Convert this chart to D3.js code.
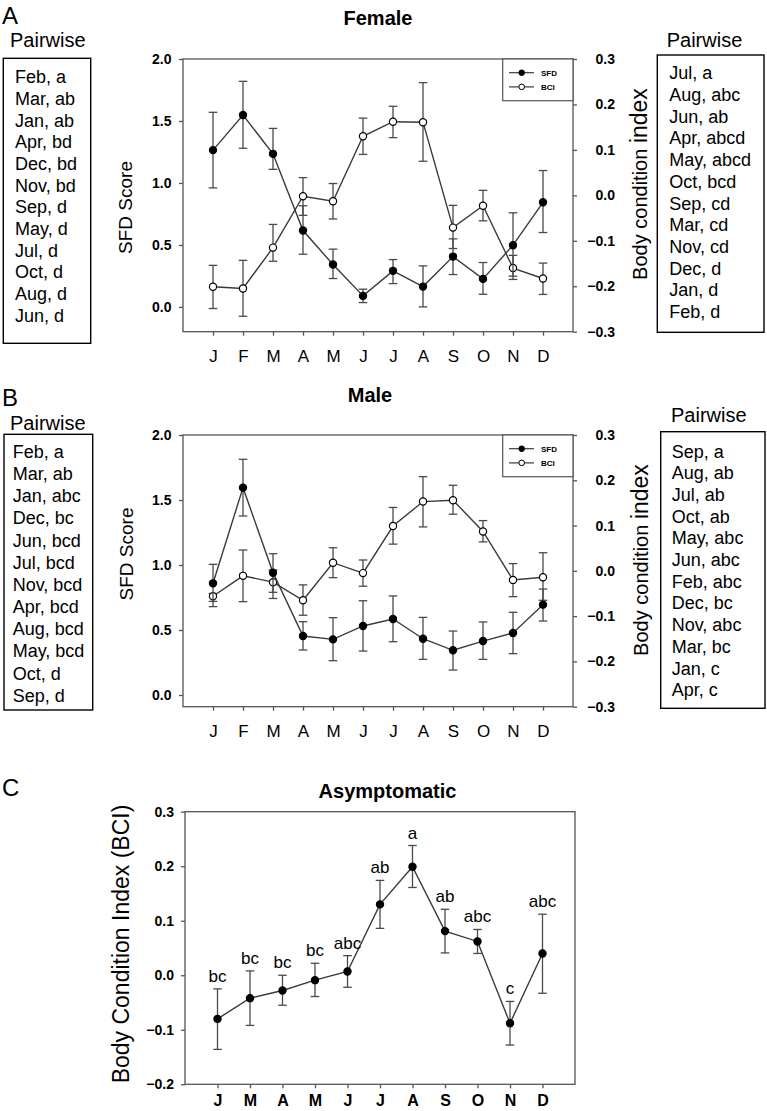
<!DOCTYPE html>
<html><head><meta charset="utf-8">
<script src="https://cdn.jsdelivr.net/npm/d3@7"></script>
<style>
body{margin:0;background:#fff}
svg{display:block}
text{font-family:"Liberation Sans",Arial,Helvetica,sans-serif;fill:#000}
</style>
</head><body>
<svg id="c" width="767" height="1111"></svg>
<script>
// ---------- DATA ----------
const months12 = ["J","F","M","A","M","J","J","A","S","O","N","D"];
const monthsC  = ["J","M","A","M","J","J","A","S","O","N","D"];
const sfdTicks = [0, 0.5, 1.0, 1.5, 2.0];
const bciTicks = [-0.3, -0.2, -0.1, 0, 0.1, 0.2, 0.3];
const bciCTicks = [-0.2, -0.1, 0, 0.1, 0.2, 0.3];
const legendLabels = ["SFD", "BCI"];

// Female (A)
const femSfdMean  = [1.265, 1.548, 1.235, 0.616, 0.342, 0.089, 0.291, 0.164, 0.406, 0.226, 0.498, 0.844];
const femSfdUpper = [1.57, 1.82, 1.44, 0.816, 0.466, 0.143, 0.382, 0.331, 0.549, 0.358, 0.759, 1.10];
const femSfdLower = [0.96, 1.28, 1.11, 0.425, 0.229, 0.035, 0.188, 0.0, 0.261, 0.102, 0.248, 0.60];
const femBciMean  = [-0.201, -0.205, -0.115, -0.002, -0.013, 0.130, 0.162, 0.161, -0.071, -0.023, -0.160, -0.183];
const femBciUpper = [-0.154, -0.143, -0.064, 0.039, 0.026, 0.170, 0.196, 0.248, -0.022, 0.011, -0.132, -0.149];
const femBciLower = [-0.249, -0.266, -0.145, -0.044, -0.052, 0.090, 0.127, 0.075, -0.117, -0.056, -0.185, -0.218];

// Male (B)
const maleSfdMean  = [0.859, 1.595, 0.941, 0.454, 0.428, 0.531, 0.585, 0.433, 0.344, 0.415, 0.477, 0.695];
const maleSfdUpper = [1.005, 1.813, 1.087, 0.564, 0.595, 0.725, 0.762, 0.597, 0.492, 0.562, 0.636, 0.815];
const maleSfdLower = [0.72, 1.377, 0.79, 0.346, 0.264, 0.338, 0.41, 0.274, 0.192, 0.274, 0.318, 0.569];
const maleBciMean  = [-0.056, -0.011, -0.025, -0.065, 0.018, -0.005, 0.099, 0.153, 0.156, 0.087, -0.020, -0.014];
const maleBciUpper = [-0.050, 0.046, 0.002, -0.031, 0.051, 0.024, 0.140, 0.208, 0.189, 0.111, 0.016, 0.040];
const maleBciLower = [-0.079, -0.068, -0.061, -0.098, -0.015, -0.034, 0.059, 0.097, 0.125, 0.064, -0.057, -0.065];

// Asymptomatic (C)
const asyMean  = [-0.080, -0.042, -0.028, -0.009, 0.007, 0.130, 0.199, 0.081, 0.062, -0.088, 0.040];
const asyUpper = [-0.025, 0.008, 0.0, 0.022, 0.036, 0.174, 0.238, 0.121, 0.084, -0.048, 0.112];
const asyLower = [-0.136, -0.092, -0.055, -0.039, -0.022, 0.086, 0.161, 0.041, 0.040, -0.128, -0.033];
const asyLetters = ["bc","bc","bc","bc","abc","ab","a","ab","abc","c","abc"];

// Pairwise lists
const pairFemSfd = ["Feb, a","Mar, ab","Jan, ab","Apr, bd","Dec, bd","Nov, bd","Sep, d","May, d","Jul, d","Oct, d","Aug, d","Jun, d"];
const pairFemBci = ["Jul, a","Aug, abc","Jun, ab","Apr, abcd","May, abcd","Oct, bcd","Sep, cd","Mar, cd","Nov, cd","Dec, d","Jan, d","Feb, d"];
const pairMaleSfd = ["Feb, a","Mar, ab","Jan, abc","Dec, bc","Jun, bcd","Jul, bcd","Nov, bcd","Apr, bcd","Aug, bcd","May, bcd","Oct, d","Sep, d"];
const pairMaleBci = ["Sep, a","Aug, ab","Jul, ab","Oct, ab","May, abc","Jun, abc","Feb, abc","Dec, bc","Nov, abc","Mar, bc","Jan, c","Apr, c"];

// ---------- DRAWING ----------
const svg = d3.select("#c");
const AX = "#555", LINE = "#3a3a3a", EB = "#4a4a4a";
const fmt = d3.format(".1f");

function styleAxis(g, size, weight) {
  g.select(".domain").remove();
  g.selectAll(".tick line").attr("stroke", AX).attr("stroke-width", 1.3);
  g.selectAll(".tick text").attr("font-size", size).attr("font-weight", weight).attr("fill", "#111")
    .style("font-family", '"Liberation Sans",Arial,sans-serif');
}

function drawSeries(g, x, y, mean, up, lo, filled) {
  const idx = d3.range(mean.length);
  g.append("path").datum(idx).attr("fill", "none").attr("stroke", LINE).attr("stroke-width", 1.4)
    .attr("d", d3.line().x(i => x(i + 1)).y(i => y(mean[i])));
  const eb = g.append("g").attr("stroke", EB).attr("stroke-width", 1.3);
  idx.forEach(i => {
    const cx = x(i + 1);
    eb.append("line").attr("x1", cx).attr("x2", cx).attr("y1", y(up[i])).attr("y2", y(lo[i]));
    [up[i], lo[i]].forEach(v => eb.append("line").attr("x1", cx - 4.3).attr("x2", cx + 4.3).attr("y1", y(v)).attr("y2", y(v)));
  });
  g.append("g").selectAll("circle").data(idx).join("circle")
    .attr("cx", i => x(i + 1)).attr("cy", i => y(mean[i])).attr("r", 3.6)
    .attr("fill", filled ? "#000" : "#fff").attr("stroke", "#000").attr("stroke-width", 1.2);
}

function rotText(x, y, parts) {
  const t = svg.append("text").attr("transform", `translate(${x},${y}) rotate(-90)`).attr("text-anchor", "middle");
  parts.forEach(p => t.append("tspan").attr("font-size", p[1]).text(p[0]));
  return t;
}

function dualPanel(o) {
  const g = svg.append("g");
  const x = d3.scaleLinear().domain([0, 13]).range([183, 573]);
  const yL = d3.scaleLinear().domain(o.lDom).range([o.bottom, o.top]);
  const yR = d3.scaleLinear().domain([-0.3, 0.3]).range([o.bottom, o.top]);

  g.append("rect").attr("x", 183).attr("y", o.top).attr("width", 390).attr("height", o.bottom - o.top)
    .attr("fill", "none").attr("stroke", AX).attr("stroke-width", 1.3);

  const la = g.append("g").attr("transform", "translate(183,0)")
    .call(d3.axisLeft(yL).tickValues(sfdTicks).tickFormat(fmt).tickSize(4).tickPadding(7.5));
  styleAxis(la, 14, "bold");
  const ra = g.append("g").attr("transform", "translate(573,0)")
    .call(d3.axisRight(yR).tickValues(bciTicks).tickFormat(fmt).tickSize(4));
  styleAxis(ra, 14, "bold");
  ra.selectAll(".tick text").attr("x", 42).attr("text-anchor", "end");
  const ba = g.append("g").attr("transform", `translate(0,${o.bottom})`)
    .call(d3.axisBottom(x).tickValues(d3.range(1, 13)).tickFormat(i => months12[i - 1]).tickSize(4));
  styleAxis(ba, 17, "normal");
  ba.selectAll(".tick text").attr("y", 30).attr("dy", 0);

  drawSeries(g, x, yR, o.bci[0], o.bci[1], o.bci[2], false);
  drawSeries(g, x, yL, o.sfd[0], o.sfd[1], o.sfd[2], true);

  // legend
  const lg = g.append("g");
  lg.append("rect").attr("x", 502.7).attr("y", o.top).attr("width", 70.3).attr("height", 41.7)
    .attr("fill", "#fff").attr("stroke", AX).attr("stroke-width", 1.2);
  legendLabels.forEach((lab, k) => {
    const yy = o.top + 13.7 + k * 14.2;
    lg.append("line").attr("x1", 509).attr("x2", 534).attr("y1", yy).attr("y2", yy).attr("stroke", LINE).attr("stroke-width", 1.2);
    lg.append("circle").attr("cx", 521.7).attr("cy", yy).attr("r", 2.8)
      .attr("fill", k === 0 ? "#000" : "#fff").attr("stroke", "#000").attr("stroke-width", 1);
    lg.append("text").attr("x", 541).attr("y", yy + 3).attr("font-size", 8).attr("font-weight", "bold").text(lab);
  });

  // title
  svg.append("text").attr("x", o.titleX).attr("y", o.titleY).attr("text-anchor", "middle")
    .attr("font-size", 20).attr("font-weight", "bold").text(o.title);

  // axis titles
  rotText(o.sfdLabX, o.sfdLabY, [["SFD Score", 19]]);
  rotText(o.bciLabX, o.bciLabY, [["Body condition ", 20], ["index", 23]]);
}

function pairBox(o) {
  svg.append("text").attr("x", o.hx).attr("y", o.hy).attr("font-size", 20).text("Pairwise");
  svg.append("rect").attr("x", o.x0).attr("y", o.y0).attr("width", o.x1 - o.x0).attr("height", o.y1 - o.y0)
    .attr("fill", "none").attr("stroke", "#000").attr("stroke-width", 1.4);
  o.items.forEach((s, i) => svg.append("text").attr("x", o.tx).attr("y", o.ty + i * o.dy).attr("font-size", 18).text(s));
}

// Panel letters
[["A", 24], ["B", 406], ["C", 796]].forEach(p =>
  svg.append("text").attr("x", 2).attr("y", p[1]).attr("font-size", 24).text(p[0]));

// Panel A
dualPanel({
  top: 59, bottom: 331.7, lDom: [-0.2, 2.0],
  sfd: [femSfdMean, femSfdUpper, femSfdLower],
  bci: [femBciMean, femBciUpper, femBciLower],
  title: "Female", titleX: 378, titleY: 25,
  sfdLabX: 131.5, sfdLabY: 207.5, bciLabX: 647, bciLabY: 184
});
pairBox({hx: 10, hy: 46.5, x0: 3.3, y0: 58.3, x1: 90.7, y1: 343.3, tx: 15, ty: 83.3, dy: 21.67, items: pairFemSfd});
pairBox({hx: 666.7, hy: 46.5, x0: 657.3, y0: 55, x1: 764, y1: 332.3, tx: 669.3, ty: 79.3, dy: 21.7, items: pairFemBci});

// Panel B
dualPanel({
  top: 435, bottom: 706.7, lDom: [-0.09, 2.0],
  sfd: [maleSfdMean, maleSfdUpper, maleSfdLower],
  bci: [maleBciMean, maleBciUpper, maleBciLower],
  title: "Male", titleX: 370, titleY: 401.7,
  sfdLabX: 133, sfdLabY: 554, bciLabX: 647.5, bciLabY: 560
});
pairBox({hx: 10, hy: 430, x0: 4, y0: 434.3, x1: 92.7, y1: 710, tx: 12.7, ty: 458, dy: 22.16, items: pairMaleSfd});
pairBox({hx: 671, hy: 421.7, x0: 660.7, y0: 431.7, x1: 765, y1: 708.3, tx: 671.7, ty: 457.5, dy: 21.7, items: pairMaleBci});

// Panel C
(function () {
  const g = svg.append("g");
  const x = d3.scaleLinear().domain([0, 12]).range([185, 575]);
  const y = d3.scaleLinear().domain([-0.2, 0.3]).range([1084.3, 811.7]);
  g.append("rect").attr("x", 185).attr("y", 811.7).attr("width", 390).attr("height", 1084.3 - 811.7)
    .attr("fill", "none").attr("stroke", AX).attr("stroke-width", 1.3);
  const la = g.append("g").attr("transform", "translate(185,0)")
    .call(d3.axisLeft(y).tickValues(bciCTicks).tickFormat(fmt).tickSize(4).tickPadding(7));
  styleAxis(la, 14, "bold");
  const ba = g.append("g").attr("transform", "translate(0,1084.3)")
    .call(d3.axisBottom(x).tickValues(d3.range(1, 12)).tickFormat(i => monthsC[i - 1]).tickSize(4));
  styleAxis(ba, 16, "bold");
  ba.selectAll(".tick text").attr("y", 21.5).attr("dy", 0);

  drawSeries(g, x, y, asyMean, asyUpper, asyLower, true);

  g.append("g").selectAll("text").data(asyLetters).join("text")
    .attr("x", (d, i) => x(i + 1)).attr("y", (d, i) => y(asyUpper[i]) - 7)
    .attr("text-anchor", "middle").attr("font-size", 17).text(d => d);

  svg.append("text").attr("x", 387.5).attr("y", 798.3).attr("text-anchor", "middle")
    .attr("font-size", 20).attr("font-weight", "bold").text("Asymptomatic");
  rotText(128.5, 944, [["Body Condition Index (BCI)", 23]]);
})();
</script>
</body></html>
